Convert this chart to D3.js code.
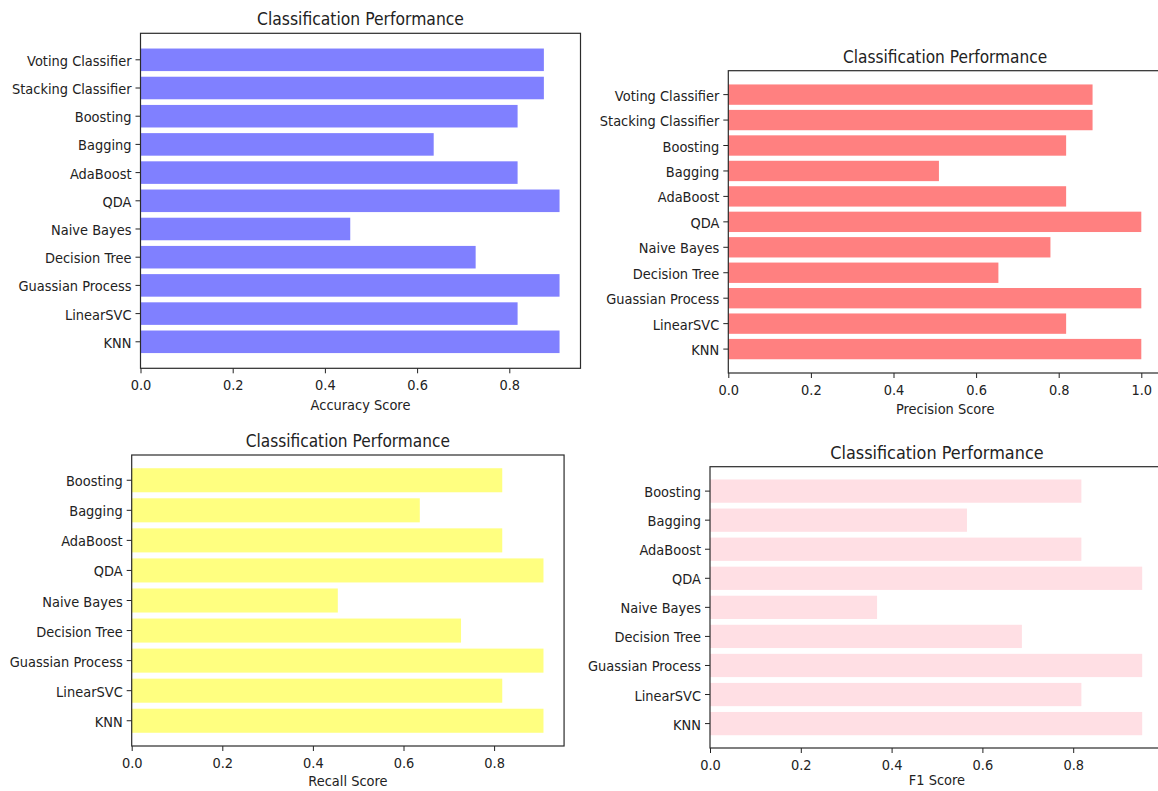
<!DOCTYPE html>
<html>
<head>
<meta charset="utf-8">
<script src="https://cdn.jsdelivr.net/npm/d3@7"></script>
<style>
  body { margin: 0; background: #fff; }
  svg { display: block; }
  text { font-family: "DejaVu Sans", sans-serif; fill: #222; }
</style>
</head>
<body>
<div id="chart"></div>
<script>
// categories, bottom to top (same order the bars were plotted)
var models11 = ["KNN", "LinearSVC", "Guassian Process", "Decision Tree", "Naive Bayes", "QDA",
                "AdaBoost", "Bagging", "Boosting", "Stacking Classifier", "Voting Classifier"];
var models9 = ["KNN", "LinearSVC", "Guassian Process", "Decision Tree", "Naive Bayes", "QDA",
               "AdaBoost", "Bagging", "Boosting"];

// scores
var accuracy  = [0.909, 0.818, 0.909, 0.727, 0.455, 0.909, 0.818, 0.636, 0.818, 0.875, 0.875];
var precision = [1.0, 0.818, 1.0, 0.654, 0.78, 1.0, 0.818, 0.51, 0.818, 0.882, 0.882];
var recall    = [0.909, 0.818, 0.909, 0.727, 0.455, 0.909, 0.818, 0.636, 0.818];
var f1        = [0.952, 0.818, 0.952, 0.687, 0.368, 0.952, 0.818, 0.566, 0.818];

var title = "Classification Performance";

var svg = d3.select("#chart").append("svg")
    .attr("width", 1158)
    .attr("height", 791);

// each subplot: where it sits + px per unit of score
var panels = [
  {cats: models11, vals: accuracy,  color: "#8080ff", label: "Accuracy Score",  left: 140.5, top: 33.3, height: 335,   ppu: 461, tfs: 15.6, lab: 42},
  {cats: models11, vals: precision, color: "#ff8080", label: "Precision Score", left: 728.3, top: 70.7, height: 302.3, ppu: 413, tfs: 15.4, lab: 41},
  {cats: models9,  vals: recall,    color: "#ffff80", label: "Recall Score",    left: 131.7, top: 455,  height: 291,   ppu: 453, tfs: 15.4, lab: 40},
  {cats: models9,  vals: f1,        color: "#ffdfe4", label: "F1 Score",        left: 710,   top: 466.7, height: 281.3, ppu: 454, tfs: 16.1, lab: 37}
];

var fs = 13, sy = 1.15;

panels.forEach(function(p) {
  var xmax = d3.max(p.vals) * 1.05;   // matplotlib default margin
  var width = xmax * p.ppu;
  var n = p.cats.length;

  var x = d3.scaleLinear().domain([0, xmax]).range([0, width]);
  var y = d3.scaleBand()
      .domain(p.cats.slice().reverse())
      .range([0, p.height])
      .paddingInner(0.2)
      .paddingOuter(0.05 * (n - 0.2));

  var g = svg.append("g")
      .attr("transform", "translate(" + p.left + "," + p.top + ")");

  var data = p.cats.map(function(c, i) { return {name: c, value: p.vals[i]}; });

  g.selectAll(".bar")
      .data(data)
    .enter().append("rect")
      .attr("class", "bar")
      .attr("x", 0)
      .attr("y", function(d) { return y(d.name); })
      .attr("width", function(d) { return x(d.value); })
      .attr("height", y.bandwidth())
      .attr("fill", p.color);

  // y axis
  var ya = g.append("g")
      .call(d3.axisLeft(y).tickSize(5).tickPadding(4));
  ya.select(".domain").remove();
  ya.selectAll("line").attr("stroke", "#222");
  ya.selectAll("text")
      .attr("x", null).attr("dy", null)
      .style("font-size", fs + "px")
      .attr("transform", "translate(-9,6) scale(1," + sy + ")");

  // x axis
  var xa = g.append("g")
      .attr("transform", "translate(0," + p.height + ")")
      .call(d3.axisBottom(x).ticks(5).tickSize(5).tickFormat(d3.format(".1f")));
  xa.select(".domain").remove();
  xa.selectAll("line").attr("stroke", "#222");
  xa.selectAll("text")
      .attr("y", null).attr("dy", null)
      .style("font-size", fs + "px")
      .attr("transform", "translate(0,22) scale(1," + sy + ")");

  // frame
  g.append("rect")
      .attr("width", width)
      .attr("height", p.height)
      .attr("fill", "none")
      .attr("stroke", "#2b2b2b")
      .attr("stroke-width", 1.2);

  g.append("text")
      .attr("text-anchor", "middle")
      .style("font-size", fs + "px")
      .attr("transform", "translate(" + (width / 2) + "," + (p.height + p.lab) + ") scale(1," + sy + ")")
      .text(p.label);

  g.append("text")
      .attr("text-anchor", "middle")
      .style("font-size", p.tfs + "px")
      .attr("transform", "translate(" + (width / 2) + ",-8) scale(1," + sy + ")")
      .text(title);
});
</script>
</body>
</html>
